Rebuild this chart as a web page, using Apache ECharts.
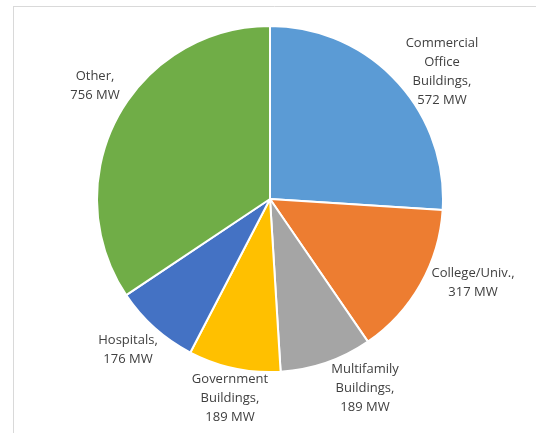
<!DOCTYPE html>
<html>
<head>
<meta charset="utf-8">
<script src="https://cdn.jsdelivr.net/npm/echarts@6/dist/echarts.min.js"></script>
<style>
html,body{margin:0;padding:0;background:#fff;}
#chart{width:536px;height:433px;}
</style>
</head>
<body>
<div id="chart"></div>
<script>
const categories = ['Commercial\nOffice\nBuildings', 'College/Univ.', 'Multifamily\nBuildings', 'Government\nBuildings', 'Hospitals', 'Other'];
const values = [572, 317, 189, 189, 176, 756];
const unit = 'MW';
const colors = ['#5B9BD5', '#ED7D31', '#A5A5A5', '#FFC000', '#4472C4', '#70AD47'];

// label anchor points (layout config)
const labelAnchors = [[442, 72], [473, 283], [365, 388], [230, 398], [128, 350], [95, 86]];

const chart = echarts.init(document.getElementById('chart'), null, {renderer: 'canvas'});
chart.setOption({
  animation: false,
  backgroundColor: '#fff',
  color: colors,
  graphic: [
    {type: 'line', shape: {x1: 13, y1: 6.5, x2: 536, y2: 6.5}, style: {stroke: '#d9d9d9', lineWidth: 1}},
    {type: 'line', shape: {x1: 13.5, y1: 6, x2: 13.5, y2: 433}, style: {stroke: '#d9d9d9', lineWidth: 1}}
  ],
  series: [{
    type: 'pie',
    center: [270, 199],
    radius: [0, 173],
    startAngle: 90,
    clockwise: true,
    avoidLabelOverlap: false,
    itemStyle: {borderColor: '#fff', borderWidth: 2},
    label: {
      show: true,
      position: 'outside',
      formatter: p => p.name + ',\n' + p.value + ' ' + unit,
      fontFamily: 'Open Sans, Lato, sans-serif',
      fontSize: 13,
      lineHeight: 19,
      color: '#404040',
      align: 'center'
    },
    labelLine: {show: false},
    labelLayout: function (params) {
      const a = labelAnchors[params.dataIndex];
      return {x: a[0], y: a[1], align: 'center', verticalAlign: 'middle', hideOverlap: false};
    },
    emphasis: {disabled: true},
    data: categories.map((c, i) => ({name: c, value: values[i]}))
  }]
});
</script>
</body>
</html>
